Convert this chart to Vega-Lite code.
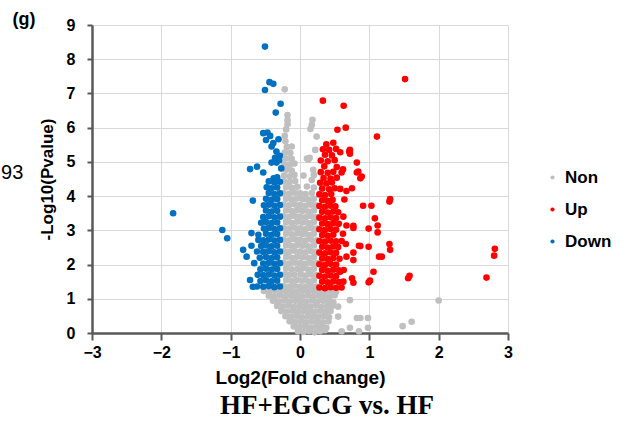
{
"$schema": "https://vega.github.io/schema/vega-lite/v6.json",
"autosize": {"type": "none"},
"padding": {"left": 92, "top": 25, "right": 123, "bottom": 91},
"width": 416,
"height": 308,
"background": "white",
"title": {"text": "HF+EGCG vs. HF", "orient": "bottom", "anchor": "middle", "font": "Liberation Serif", "fontSize": 27, "fontWeight": "bold", "color": "#000000", "offset": 6, "dx": 27, "baseline": "top"},
"config": {"view": {"stroke": null}, "font": "Liberation Sans"},
"layer": [
{
"data": {"values": [
{"x":-0.03,"y":0.05,"g":"Non"},{"x":0.05,"y":0.03,"g":"Non"},{"x":0.13,"y":0.06,"g":"Non"},{"x":0.21,"y":0.02,"g":"Non"},{"x":0.29,"y":0.05,"g":"Non"},{"x":0.36,"y":0.08,"g":"Non"},
{"x":-0.09,"y":0.19,"g":"Non"},{"x":-0.01,"y":0.17,"g":"Non"},{"x":0.07,"y":0.2,"g":"Non"},{"x":0.15,"y":0.16,"g":"Non"},{"x":0.23,"y":0.19,"g":"Non"},{"x":0.31,"y":0.18,"g":"Non"},{"x":0.38,"y":0.15,"g":"Non"},
{"x":-0.15,"y":0.34,"g":"Non"},{"x":-0.07,"y":0.32,"g":"Non"},{"x":0.01,"y":0.35,"g":"Non"},{"x":0.09,"y":0.31,"g":"Non"},{"x":0.17,"y":0.34,"g":"Non"},{"x":0.25,"y":0.33,"g":"Non"},{"x":0.33,"y":0.31,"g":"Non"},{"x":0.41,"y":0.34,"g":"Non"},
{"x":-0.21,"y":0.49,"g":"Non"},{"x":-0.13,"y":0.47,"g":"Non"},{"x":-0.05,"y":0.5,"g":"Non"},{"x":0.03,"y":0.46,"g":"Non"},{"x":0.11,"y":0.49,"g":"Non"},{"x":0.19,"y":0.48,"g":"Non"},{"x":0.27,"y":0.47,"g":"Non"},{"x":0.35,"y":0.5,"g":"Non"},{"x":0.42,"y":0.46,"g":"Non"},
{"x":-0.27,"y":0.64,"g":"Non"},{"x":-0.19,"y":0.62,"g":"Non"},{"x":-0.11,"y":0.65,"g":"Non"},{"x":-0.03,"y":0.61,"g":"Non"},{"x":0.05,"y":0.64,"g":"Non"},{"x":0.13,"y":0.63,"g":"Non"},{"x":0.21,"y":0.62,"g":"Non"},{"x":0.29,"y":0.65,"g":"Non"},{"x":0.37,"y":0.61,"g":"Non"},{"x":0.44,"y":0.64,"g":"Non"},
{"x":-0.33,"y":0.79,"g":"Non"},{"x":-0.25,"y":0.77,"g":"Non"},{"x":-0.17,"y":0.8,"g":"Non"},{"x":-0.09,"y":0.76,"g":"Non"},{"x":-0.01,"y":0.79,"g":"Non"},{"x":0.07,"y":0.78,"g":"Non"},{"x":0.15,"y":0.77,"g":"Non"},{"x":0.23,"y":0.8,"g":"Non"},{"x":0.31,"y":0.76,"g":"Non"},{"x":0.39,"y":0.79,"g":"Non"},{"x":0.46,"y":0.78,"g":"Non"},
{"x":-0.39,"y":0.94,"g":"Non"},{"x":-0.31,"y":0.92,"g":"Non"},{"x":-0.23,"y":0.95,"g":"Non"},{"x":-0.15,"y":0.91,"g":"Non"},{"x":-0.07,"y":0.94,"g":"Non"},{"x":0.01,"y":0.93,"g":"Non"},{"x":0.09,"y":0.92,"g":"Non"},{"x":0.17,"y":0.95,"g":"Non"},{"x":0.25,"y":0.91,"g":"Non"},{"x":0.33,"y":0.94,"g":"Non"},{"x":0.41,"y":0.93,"g":"Non"},{"x":0.48,"y":0.9,"g":"Non"},
{"x":-0.45,"y":1.09,"g":"Non"},{"x":-0.37,"y":1.07,"g":"Non"},{"x":-0.29,"y":1.1,"g":"Non"},{"x":-0.21,"y":1.06,"g":"Non"},{"x":-0.13,"y":1.09,"g":"Non"},{"x":-0.05,"y":1.08,"g":"Non"},{"x":0.03,"y":1.07,"g":"Non"},{"x":0.11,"y":1.1,"g":"Non"},{"x":0.19,"y":1.06,"g":"Non"},{"x":0.27,"y":1.09,"g":"Non"},{"x":0.35,"y":1.08,"g":"Non"},{"x":0.43,"y":1.07,"g":"Non"},{"x":0.5,"y":1.1,"g":"Non"},
{"x":-0.52,"y":1.23,"g":"Non"},{"x":-0.44,"y":1.21,"g":"Non"},{"x":-0.36,"y":1.24,"g":"Non"},{"x":-0.28,"y":1.2,"g":"Non"},{"x":-0.2,"y":1.23,"g":"Non"},{"x":-0.12,"y":1.22,"g":"Non"},{"x":-0.04,"y":1.21,"g":"Non"},{"x":0.04,"y":1.24,"g":"Non"},{"x":0.12,"y":1.2,"g":"Non"},{"x":0.2,"y":1.23,"g":"Non"},{"x":0.28,"y":1.22,"g":"Non"},{"x":0.36,"y":1.21,"g":"Non"},{"x":0.44,"y":1.24,"g":"Non"},{"x":0.52,"y":1.2,"g":"Non"},
{"x":-0.24,"y":1.37,"g":"Non"},{"x":-0.16,"y":1.35,"g":"Non"},{"x":-0.08,"y":1.38,"g":"Non"},{"x":0.0,"y":1.36,"g":"Non"},{"x":0.08,"y":1.34,"g":"Non"},{"x":0.16,"y":1.37,"g":"Non"},{"x":0.24,"y":1.36,"g":"Non"},
{"x":-0.2,"y":1.54,"g":"Non"},{"x":-0.12,"y":1.52,"g":"Non"},{"x":-0.04,"y":1.55,"g":"Non"},{"x":0.04,"y":1.53,"g":"Non"},{"x":0.12,"y":1.51,"g":"Non"},{"x":0.2,"y":1.54,"g":"Non"},
{"x":-0.23,"y":1.71,"g":"Non"},{"x":-0.16,"y":1.69,"g":"Non"},{"x":-0.08,"y":1.7,"g":"Non"},{"x":0.01,"y":1.72,"g":"Non"},{"x":0.08,"y":1.68,"g":"Non"},{"x":0.16,"y":1.71,"g":"Non"},{"x":0.24,"y":1.69,"g":"Non"},
{"x":-0.2,"y":1.88,"g":"Non"},{"x":-0.12,"y":1.86,"g":"Non"},{"x":-0.04,"y":1.87,"g":"Non"},{"x":0.04,"y":1.89,"g":"Non"},{"x":0.12,"y":1.85,"g":"Non"},{"x":0.2,"y":1.88,"g":"Non"},
{"x":-0.24,"y":2.05,"g":"Non"},{"x":-0.16,"y":2.03,"g":"Non"},{"x":-0.08,"y":2.06,"g":"Non"},{"x":0.0,"y":2.04,"g":"Non"},{"x":0.08,"y":2.02,"g":"Non"},{"x":0.16,"y":2.05,"g":"Non"},{"x":0.24,"y":2.04,"g":"Non"},
{"x":-0.2,"y":2.22,"g":"Non"},{"x":-0.12,"y":2.2,"g":"Non"},{"x":-0.04,"y":2.23,"g":"Non"},{"x":0.04,"y":2.21,"g":"Non"},{"x":0.12,"y":2.19,"g":"Non"},{"x":0.2,"y":2.22,"g":"Non"},
{"x":-0.24,"y":2.39,"g":"Non"},{"x":-0.16,"y":2.37,"g":"Non"},{"x":-0.08,"y":2.4,"g":"Non"},{"x":0.0,"y":2.38,"g":"Non"},{"x":0.08,"y":2.36,"g":"Non"},{"x":0.16,"y":2.39,"g":"Non"},{"x":0.24,"y":2.37,"g":"Non"},
{"x":-0.2,"y":2.56,"g":"Non"},{"x":-0.12,"y":2.54,"g":"Non"},{"x":-0.04,"y":2.57,"g":"Non"},{"x":0.04,"y":2.55,"g":"Non"},{"x":0.12,"y":2.53,"g":"Non"},{"x":0.2,"y":2.56,"g":"Non"},
{"x":-0.24,"y":2.73,"g":"Non"},{"x":-0.16,"y":2.71,"g":"Non"},{"x":-0.08,"y":2.74,"g":"Non"},{"x":0.0,"y":2.72,"g":"Non"},{"x":0.08,"y":2.7,"g":"Non"},{"x":0.16,"y":2.73,"g":"Non"},{"x":0.24,"y":2.71,"g":"Non"},
{"x":-0.2,"y":2.9,"g":"Non"},{"x":-0.12,"y":2.88,"g":"Non"},{"x":-0.04,"y":2.91,"g":"Non"},{"x":0.04,"y":2.89,"g":"Non"},{"x":0.12,"y":2.87,"g":"Non"},{"x":0.2,"y":2.9,"g":"Non"},
{"x":-0.24,"y":3.07,"g":"Non"},{"x":-0.16,"y":3.05,"g":"Non"},{"x":-0.08,"y":3.08,"g":"Non"},{"x":0.0,"y":3.06,"g":"Non"},{"x":0.08,"y":3.04,"g":"Non"},{"x":0.16,"y":3.07,"g":"Non"},{"x":0.24,"y":3.05,"g":"Non"},
{"x":-0.2,"y":3.24,"g":"Non"},{"x":-0.12,"y":3.22,"g":"Non"},{"x":-0.04,"y":3.25,"g":"Non"},{"x":0.04,"y":3.23,"g":"Non"},{"x":0.12,"y":3.21,"g":"Non"},{"x":0.2,"y":3.24,"g":"Non"},
{"x":-0.24,"y":3.41,"g":"Non"},{"x":-0.16,"y":3.39,"g":"Non"},{"x":-0.08,"y":3.42,"g":"Non"},{"x":0.0,"y":3.4,"g":"Non"},{"x":0.08,"y":3.38,"g":"Non"},{"x":0.16,"y":3.41,"g":"Non"},{"x":0.24,"y":3.39,"g":"Non"},
{"x":-0.2,"y":3.58,"g":"Non"},{"x":-0.12,"y":3.56,"g":"Non"},{"x":-0.04,"y":3.59,"g":"Non"},{"x":0.04,"y":3.57,"g":"Non"},{"x":0.12,"y":3.55,"g":"Non"},{"x":0.2,"y":3.58,"g":"Non"},
{"x":-0.24,"y":3.75,"g":"Non"},{"x":-0.16,"y":3.73,"g":"Non"},{"x":-0.08,"y":3.76,"g":"Non"},{"x":0.0,"y":3.74,"g":"Non"},{"x":0.08,"y":3.72,"g":"Non"},{"x":0.16,"y":3.75,"g":"Non"},{"x":0.23,"y":3.73,"g":"Non"},
{"x":-0.2,"y":3.92,"g":"Non"},{"x":-0.12,"y":3.9,"g":"Non"},{"x":-0.04,"y":3.93,"g":"Non"},{"x":0.04,"y":3.91,"g":"Non"},{"x":0.12,"y":3.89,"g":"Non"},{"x":0.2,"y":3.92,"g":"Non"},
{"x":-0.24,"y":4.09,"g":"Non"},{"x":-0.16,"y":4.07,"g":"Non"},{"x":-0.08,"y":4.1,"g":"Non"},{"x":0.0,"y":4.08,"g":"Non"},{"x":0.08,"y":4.06,"g":"Non"},{"x":0.17,"y":4.09,"g":"Non"},
{"x":-0.2,"y":4.26,"g":"Non"},{"x":-0.12,"y":4.24,"g":"Non"},{"x":-0.04,"y":4.27,"g":"Non"},{"x":0.1,"y":4.28,"g":"Non"},{"x":0.2,"y":4.25,"g":"Non"},
{"x":-0.23,"y":4.43,"g":"Non"},{"x":-0.15,"y":4.41,"g":"Non"},{"x":-0.07,"y":4.44,"g":"Non"},{"x":0.17,"y":4.47,"g":"Non"},
{"x":-0.23,"y":4.6,"g":"Non"},{"x":-0.15,"y":4.58,"g":"Non"},{"x":-0.08,"y":4.62,"g":"Non"},{"x":0.05,"y":4.6,"g":"Non"},{"x":0.2,"y":4.62,"g":"Non"},
{"x":-0.2,"y":4.77,"g":"Non"},{"x":-0.12,"y":4.75,"g":"Non"},{"x":0.19,"y":4.77,"g":"Non"},
{"x":-0.23,"y":4.93,"g":"Non"},{"x":-0.15,"y":4.92,"g":"Non"},{"x":-0.08,"y":4.95,"g":"Non"},
{"x":-0.2,"y":5.1,"g":"Non"},{"x":-0.12,"y":5.09,"g":"Non"},{"x":0.12,"y":5.06,"g":"Non"},{"x":0.14,"y":5.12,"g":"Non"},{"x":0.1,"y":5.1,"g":"Non"},
{"x":-0.22,"y":5.27,"g":"Non"},{"x":-0.14,"y":5.26,"g":"Non"},{"x":-0.19,"y":5.43,"g":"Non"},{"x":-0.12,"y":5.45,"g":"Non"},{"x":0.22,"y":5.35,"g":"Non"},
{"x":-0.21,"y":5.6,"g":"Non"},{"x":-0.22,"y":5.76,"g":"Non"},{"x":0.24,"y":5.74,"g":"Non"},{"x":-0.2,"y":5.95,"g":"Non"},{"x":0.15,"y":5.96,"g":"Non"},
{"x":-0.18,"y":6.1,"g":"Non"},{"x":0.17,"y":6.08,"g":"Non"},{"x":0.18,"y":6.23,"g":"Non"},{"x":-0.18,"y":6.22,"g":"Non"},{"x":-0.18,"y":6.37,"g":"Non"},{"x":-0.22,"y":7.12,"g":"Non"},
{"x":0.55,"y":0.77,"g":"Non"},{"x":0.72,"y":0.96,"g":"Non"},{"x":0.55,"y":0.48,"g":"Non"},{"x":0.82,"y":0.44,"g":"Non"},{"x":0.87,"y":0.44,"g":"Non"},{"x":0.98,"y":0.44,"g":"Non"},{"x":0.98,"y":0.15,"g":"Non"},{"x":0.72,"y":0.15,"g":"Non"},{"x":0.6,"y":0.05,"g":"Non"},{"x":0.85,"y":0.05,"g":"Non"},{"x":2.0,"y":0.95,"g":"Non"},{"x":1.61,"y":0.33,"g":"Non"},{"x":1.48,"y":0.2,"g":"Non"},
{"x":0.28,"y":1.33,"g":"Up"},{"x":0.36,"y":1.31,"g":"Up"},{"x":0.44,"y":1.34,"g":"Up"},{"x":0.52,"y":1.32,"g":"Up"},{"x":0.6,"y":1.33,"g":"Up"},
{"x":0.32,"y":1.5,"g":"Up"},{"x":0.4,"y":1.48,"g":"Up"},{"x":0.48,"y":1.51,"g":"Up"},{"x":0.56,"y":1.49,"g":"Up"},
{"x":0.28,"y":1.67,"g":"Up"},{"x":0.36,"y":1.65,"g":"Up"},{"x":0.44,"y":1.68,"g":"Up"},{"x":0.52,"y":1.66,"g":"Up"},
{"x":0.32,"y":1.84,"g":"Up"},{"x":0.4,"y":1.82,"g":"Up"},{"x":0.48,"y":1.85,"g":"Up"},{"x":0.56,"y":1.83,"g":"Up"},
{"x":0.28,"y":2.01,"g":"Up"},{"x":0.36,"y":1.99,"g":"Up"},{"x":0.44,"y":2.02,"g":"Up"},{"x":0.52,"y":2.0,"g":"Up"},
{"x":0.32,"y":2.18,"g":"Up"},{"x":0.4,"y":2.16,"g":"Up"},{"x":0.48,"y":2.19,"g":"Up"},{"x":0.57,"y":2.17,"g":"Up"},
{"x":0.28,"y":2.35,"g":"Up"},{"x":0.36,"y":2.33,"g":"Up"},{"x":0.44,"y":2.36,"g":"Up"},{"x":0.52,"y":2.34,"g":"Up"},
{"x":0.32,"y":2.52,"g":"Up"},{"x":0.4,"y":2.5,"g":"Up"},{"x":0.48,"y":2.53,"g":"Up"},{"x":0.55,"y":2.51,"g":"Up"},
{"x":0.28,"y":2.69,"g":"Up"},{"x":0.36,"y":2.67,"g":"Up"},{"x":0.44,"y":2.7,"g":"Up"},{"x":0.52,"y":2.68,"g":"Up"},{"x":0.6,"y":2.69,"g":"Up"},
{"x":0.32,"y":2.86,"g":"Up"},{"x":0.4,"y":2.84,"g":"Up"},{"x":0.48,"y":2.87,"g":"Up"},
{"x":0.28,"y":3.03,"g":"Up"},{"x":0.36,"y":3.01,"g":"Up"},{"x":0.44,"y":3.04,"g":"Up"},{"x":0.52,"y":3.02,"g":"Up"},
{"x":0.32,"y":3.2,"g":"Up"},{"x":0.4,"y":3.18,"g":"Up"},{"x":0.48,"y":3.21,"g":"Up"},{"x":0.56,"y":3.19,"g":"Up"},
{"x":0.28,"y":3.37,"g":"Up"},{"x":0.36,"y":3.35,"g":"Up"},{"x":0.44,"y":3.38,"g":"Up"},{"x":0.52,"y":3.36,"g":"Up"},
{"x":0.32,"y":3.54,"g":"Up"},{"x":0.4,"y":3.52,"g":"Up"},{"x":0.48,"y":3.55,"g":"Up"},{"x":0.55,"y":3.53,"g":"Up"},
{"x":0.28,"y":3.71,"g":"Up"},{"x":0.36,"y":3.69,"g":"Up"},{"x":0.44,"y":3.72,"g":"Up"},{"x":0.51,"y":3.7,"g":"Up"},
{"x":0.32,"y":3.88,"g":"Up"},{"x":0.4,"y":3.86,"g":"Up"},{"x":0.47,"y":3.89,"g":"Up"},
{"x":0.28,"y":4.05,"g":"Up"},{"x":0.36,"y":4.03,"g":"Up"},{"x":0.45,"y":4.06,"g":"Up"},
{"x":0.32,"y":4.22,"g":"Up"},{"x":0.42,"y":4.2,"g":"Up"},{"x":0.5,"y":4.23,"g":"Up"},{"x":0.58,"y":4.21,"g":"Up"},
{"x":0.29,"y":4.39,"g":"Up"},{"x":0.38,"y":4.37,"g":"Up"},{"x":0.46,"y":4.4,"g":"Up"},
{"x":0.34,"y":4.53,"g":"Up"},{"x":0.44,"y":4.51,"g":"Up"},{"x":0.53,"y":4.54,"g":"Up"},
{"x":0.3,"y":4.7,"g":"Up"},{"x":0.4,"y":4.68,"g":"Up"},{"x":0.48,"y":4.71,"g":"Up"},{"x":0.6,"y":4.69,"g":"Up"},
{"x":0.35,"y":4.87,"g":"Up"},{"x":0.53,"y":4.85,"g":"Up"},{"x":0.62,"y":4.78,"g":"Up"},
{"x":0.3,"y":5.04,"g":"Up"},{"x":0.4,"y":5.02,"g":"Up"},{"x":0.5,"y":5.05,"g":"Up"},
{"x":0.36,"y":5.21,"g":"Up"},{"x":0.46,"y":5.19,"g":"Up"},
{"x":0.33,"y":5.37,"g":"Up"},{"x":0.42,"y":5.35,"g":"Up"},{"x":0.52,"y":5.38,"g":"Up"},
{"x":0.38,"y":5.51,"g":"Up"},{"x":0.48,"y":5.56,"g":"Up"},
{"x":0.33,"y":6.79,"g":"Up"},{"x":0.63,"y":6.64,"g":"Up"},{"x":0.54,"y":5.94,"g":"Up"},{"x":0.66,"y":6.0,"g":"Up"},{"x":1.11,"y":5.74,"g":"Up"},{"x":1.515,"y":7.42,"g":"Up"},
{"x":0.71,"y":5.3,"g":"Up"},{"x":0.72,"y":5.24,"g":"Up"},{"x":0.58,"y":5.28,"g":"Up"},{"x":0.82,"y":4.98,"g":"Up"},{"x":0.84,"y":4.72,"g":"Up"},{"x":0.89,"y":4.57,"g":"Up"},{"x":0.87,"y":4.52,"g":"Up"},{"x":0.75,"y":4.23,"g":"Up"},{"x":0.67,"y":4.15,"g":"Up"},{"x":0.82,"y":4.69,"g":"Up"},
{"x":1.3,"y":3.91,"g":"Up"},{"x":1.29,"y":3.84,"g":"Up"},{"x":0.91,"y":3.72,"g":"Up"},{"x":1.03,"y":3.72,"g":"Up"},{"x":1.08,"y":3.35,"g":"Up"},{"x":0.99,"y":3.05,"g":"Up"},{"x":1.12,"y":3.14,"g":"Up"},{"x":1.12,"y":2.94,"g":"Up"},
{"x":0.77,"y":3.13,"g":"Up"},{"x":0.67,"y":3.14,"g":"Up"},{"x":0.625,"y":3.4,"g":"Up"},{"x":0.77,"y":3.07,"g":"Up"},{"x":0.85,"y":2.55,"g":"Up"},{"x":0.99,"y":2.52,"g":"Up"},{"x":0.87,"y":2.54,"g":"Up"},{"x":1.29,"y":2.6,"g":"Up"},{"x":1.3,"y":2.43,"g":"Up"},
{"x":0.77,"y":2.35,"g":"Up"},{"x":0.67,"y":2.23,"g":"Up"},{"x":0.77,"y":2.13,"g":"Up"},{"x":1.14,"y":2.23,"g":"Up"},{"x":1.18,"y":2.23,"g":"Up"},{"x":1.06,"y":1.79,"g":"Up"},{"x":0.63,"y":1.84,"g":"Up"},{"x":0.58,"y":1.79,"g":"Up"},
{"x":0.99,"y":1.48,"g":"Up"},{"x":1.01,"y":1.53,"g":"Up"},{"x":0.75,"y":1.6,"g":"Up"},{"x":0.77,"y":1.47,"g":"Up"},{"x":0.625,"y":1.5,"g":"Up"},{"x":1.58,"y":1.67,"g":"Up"},{"x":1.56,"y":1.6,"g":"Up"},
{"x":2.81,"y":2.46,"g":"Up"},{"x":2.8,"y":2.26,"g":"Up"},{"x":2.69,"y":1.62,"g":"Up"},{"x":0.72,"y":5.35,"g":"Up"},{"x":0.64,"y":3.9,"g":"Up"},{"x":0.62,"y":2.9,"g":"Up"},{"x":0.66,"y":2.6,"g":"Up"},
{"x":-0.29,"y":1.36,"g":"Down"},{"x":-0.37,"y":1.34,"g":"Down"},{"x":-0.45,"y":1.37,"g":"Down"},{"x":-0.53,"y":1.35,"g":"Down"},{"x":-0.62,"y":1.36,"g":"Down"},{"x":-0.68,"y":1.35,"g":"Down"},
{"x":-0.33,"y":1.53,"g":"Down"},{"x":-0.41,"y":1.51,"g":"Down"},{"x":-0.49,"y":1.54,"g":"Down"},{"x":-0.57,"y":1.52,"g":"Down"},{"x":-0.72,"y":1.55,"g":"Down"},
{"x":-0.29,"y":1.7,"g":"Down"},{"x":-0.37,"y":1.68,"g":"Down"},{"x":-0.45,"y":1.71,"g":"Down"},{"x":-0.53,"y":1.69,"g":"Down"},{"x":-0.61,"y":1.7,"g":"Down"},
{"x":-0.33,"y":1.87,"g":"Down"},{"x":-0.41,"y":1.85,"g":"Down"},{"x":-0.49,"y":1.88,"g":"Down"},{"x":-0.57,"y":1.86,"g":"Down"},
{"x":-0.29,"y":2.04,"g":"Down"},{"x":-0.37,"y":2.02,"g":"Down"},{"x":-0.45,"y":2.05,"g":"Down"},{"x":-0.53,"y":2.03,"g":"Down"},{"x":-0.66,"y":2.04,"g":"Down"},
{"x":-0.33,"y":2.21,"g":"Down"},{"x":-0.41,"y":2.19,"g":"Down"},{"x":-0.49,"y":2.22,"g":"Down"},{"x":-0.58,"y":2.2,"g":"Down"},{"x":-0.77,"y":2.23,"g":"Down"},
{"x":-0.29,"y":2.38,"g":"Down"},{"x":-0.37,"y":2.36,"g":"Down"},{"x":-0.45,"y":2.39,"g":"Down"},{"x":-0.53,"y":2.37,"g":"Down"},{"x":-0.62,"y":2.38,"g":"Down"},{"x":-0.82,"y":2.43,"g":"Down"},
{"x":-0.33,"y":2.55,"g":"Down"},{"x":-0.41,"y":2.53,"g":"Down"},{"x":-0.49,"y":2.56,"g":"Down"},{"x":-0.56,"y":2.54,"g":"Down"},{"x":-0.7,"y":2.55,"g":"Down"},
{"x":-0.29,"y":2.72,"g":"Down"},{"x":-0.37,"y":2.7,"g":"Down"},{"x":-0.45,"y":2.73,"g":"Down"},{"x":-0.53,"y":2.71,"g":"Down"},{"x":-0.6,"y":2.72,"g":"Down"},
{"x":-0.33,"y":2.89,"g":"Down"},{"x":-0.41,"y":2.87,"g":"Down"},{"x":-0.49,"y":2.9,"g":"Down"},{"x":-0.6,"y":2.87,"g":"Down"},{"x":-0.7,"y":2.92,"g":"Down"},
{"x":-0.29,"y":3.06,"g":"Down"},{"x":-0.37,"y":3.04,"g":"Down"},{"x":-0.45,"y":3.07,"g":"Down"},{"x":-0.52,"y":3.05,"g":"Down"},
{"x":-0.33,"y":3.23,"g":"Down"},{"x":-0.41,"y":3.21,"g":"Down"},{"x":-0.49,"y":3.24,"g":"Down"},{"x":-0.56,"y":3.22,"g":"Down"},
{"x":-0.29,"y":3.4,"g":"Down"},{"x":-0.37,"y":3.38,"g":"Down"},{"x":-0.45,"y":3.41,"g":"Down"},{"x":-0.53,"y":3.39,"g":"Down"},
{"x":-0.33,"y":3.57,"g":"Down"},{"x":-0.41,"y":3.55,"g":"Down"},{"x":-0.49,"y":3.58,"g":"Down"},
{"x":-0.29,"y":3.74,"g":"Down"},{"x":-0.37,"y":3.72,"g":"Down"},{"x":-0.45,"y":3.75,"g":"Down"},{"x":-0.52,"y":3.73,"g":"Down"},
{"x":-0.33,"y":3.91,"g":"Down"},{"x":-0.41,"y":3.89,"g":"Down"},{"x":-0.49,"y":3.92,"g":"Down"},{"x":-0.68,"y":3.87,"g":"Down"},
{"x":-0.29,"y":4.08,"g":"Down"},{"x":-0.37,"y":4.06,"g":"Down"},{"x":-0.45,"y":4.09,"g":"Down"},
{"x":-0.33,"y":4.25,"g":"Down"},{"x":-0.41,"y":4.23,"g":"Down"},{"x":-0.48,"y":4.26,"g":"Down"},
{"x":-0.29,"y":4.42,"g":"Down"},{"x":-0.37,"y":4.4,"g":"Down"},{"x":-0.45,"y":4.43,"g":"Down"},
{"x":-0.38,"y":4.52,"g":"Down"},{"x":-0.33,"y":4.55,"g":"Down"},{"x":-0.27,"y":4.81,"g":"Down"},{"x":-0.72,"y":4.79,"g":"Down"},{"x":-0.62,"y":4.86,"g":"Down"},{"x":-0.53,"y":4.69,"g":"Down"},{"x":-0.41,"y":4.98,"g":"Down"},{"x":-0.34,"y":4.98,"g":"Down"},
{"x":-0.29,"y":5.18,"g":"Down"},{"x":-0.34,"y":5.3,"g":"Down"},{"x":-0.41,"y":5.45,"g":"Down"},{"x":-0.385,"y":5.55,"g":"Down"},{"x":-0.31,"y":5.66,"g":"Down"},{"x":-0.49,"y":5.64,"g":"Down"},{"x":-0.43,"y":5.76,"g":"Down"},{"x":-0.47,"y":5.86,"g":"Down"},{"x":-0.53,"y":5.84,"g":"Down"},
{"x":-0.35,"y":6.44,"g":"Down"},{"x":-0.28,"y":6.7,"g":"Down"},{"x":-0.505,"y":7.1,"g":"Down"},{"x":-0.385,"y":7.28,"g":"Down"},{"x":-0.44,"y":7.33,"g":"Down"},{"x":-0.505,"y":8.37,"g":"Down"},{"x":-0.3,"y":5.05,"g":"Down"},{"x":-0.36,"y":5.12,"g":"Down"},
{"x":-1.83,"y":3.5,"g":"Down"},{"x":-1.12,"y":3.01,"g":"Down"},{"x":-1.05,"y":2.77,"g":"Down"}
]},
"mark": {"type": "circle", "size": 44, "opacity": 1},
"encoding": {
"x": {"field": "x", "type": "quantitative", "scale": {"domain": [-3, 3], "nice": false, "zero": false},
 "axis": {"title": "Log2(Fold change)", "values": [-3, -2, -1, 0, 1, 2, 3], "format": "d", "grid": true, "gridColor": "#d9d9d9", "gridWidth": 1, "domainColor": "#595959", "domainWidth": 2.5, "tickColor": "#595959", "tickWidth": 2, "tickSize": 7, "labelFlush": false, "labelOverlap": false, "labelFont": "Liberation Sans", "labelFontSize": 16, "labelFontWeight": "bold", "labelColor": "#000000", "labelPadding": 4, "titleFont": "Liberation Sans", "titleFontSize": 19, "titleFontWeight": "bold", "titleColor": "#000000", "titlePadding": 8}},
"y": {"field": "y", "type": "quantitative", "scale": {"domain": [0, 9], "nice": false},
 "axis": {"title": "-Log10(Pvalue)", "values": [0, 1, 2, 3, 4, 5, 6, 7, 8, 9], "format": "d", "grid": true, "gridColor": "#d9d9d9", "gridWidth": 1, "domainColor": "#595959", "domainWidth": 2.5, "tickColor": "#595959", "tickWidth": 2, "tickSize": 5, "labelOverlap": false, "labelFont": "Liberation Sans", "labelFontSize": 16, "labelFontWeight": "bold", "labelColor": "#000000", "labelPadding": 12, "titleFont": "Liberation Sans", "titleFontSize": 17, "titleFontWeight": "bold", "titleColor": "#000000", "titlePadding": 10}},
"color": {"field": "g", "type": "nominal", "scale": {"domain": ["Non", "Up", "Down"], "range": ["#bfbfbf", "#ff0000", "#0070c0"]},
 "legend": {"title": null, "orient": "none", "legendX": 452, "legendY": 144, "symbolType": "circle", "symbolSize": 18, "labelFont": "Liberation Sans", "labelFontSize": 17, "labelFontWeight": "bold", "labelColor": "#000000", "rowPadding": 14, "labelOffset": 4}}
}
},
{
"data": {"values": [{"label": "(g)"}]},
"mark": {"type": "text", "font": "Liberation Sans", "fontWeight": "bold", "fontSize": 18, "align": "center", "baseline": "middle", "color": "#000000"},
"encoding": {
"x": {"datum": -3.98, "type": "quantitative", "axis": {"title": "Log2(Fold change)", "values": [-3, -2, -1, 0, 1, 2, 3], "format": "d", "grid": true, "gridColor": "#d9d9d9", "gridWidth": 1, "domainColor": "#595959", "domainWidth": 2.5, "tickColor": "#595959", "tickWidth": 2, "tickSize": 7, "labelFlush": false, "labelOverlap": false, "labelFont": "Liberation Sans", "labelFontSize": 16, "labelFontWeight": "bold", "labelColor": "#000000", "labelPadding": 4, "titleFont": "Liberation Sans", "titleFontSize": 19, "titleFontWeight": "bold", "titleColor": "#000000", "titlePadding": 8}},
"y": {"datum": 9.16, "type": "quantitative", "axis": {"title": "-Log10(Pvalue)", "values": [0, 1, 2, 3, 4, 5, 6, 7, 8, 9], "format": "d", "grid": true, "gridColor": "#d9d9d9", "gridWidth": 1, "domainColor": "#595959", "domainWidth": 2.5, "tickColor": "#595959", "tickWidth": 2, "tickSize": 5, "labelOverlap": false, "labelFont": "Liberation Sans", "labelFontSize": 16, "labelFontWeight": "bold", "labelColor": "#000000", "labelPadding": 12, "titleFont": "Liberation Sans", "titleFontSize": 17, "titleFontWeight": "bold", "titleColor": "#000000", "titlePadding": 10}},
"text": {"field": "label"}}
},
{
"data": {"values": [{"label": "93"}]},
"mark": {"type": "text", "font": "Liberation Sans", "fontSize": 20, "align": "right", "baseline": "middle", "color": "#000000"},
"encoding": {
"x": {"datum": -3.99, "type": "quantitative", "axis": {"title": "Log2(Fold change)", "values": [-3, -2, -1, 0, 1, 2, 3], "format": "d", "grid": true, "gridColor": "#d9d9d9", "gridWidth": 1, "domainColor": "#595959", "domainWidth": 2.5, "tickColor": "#595959", "tickWidth": 2, "tickSize": 7, "labelFlush": false, "labelOverlap": false, "labelFont": "Liberation Sans", "labelFontSize": 16, "labelFontWeight": "bold", "labelColor": "#000000", "labelPadding": 4, "titleFont": "Liberation Sans", "titleFontSize": 19, "titleFontWeight": "bold", "titleColor": "#000000", "titlePadding": 8}},
"y": {"datum": 4.68, "type": "quantitative", "axis": {"title": "-Log10(Pvalue)", "values": [0, 1, 2, 3, 4, 5, 6, 7, 8, 9], "format": "d", "grid": true, "gridColor": "#d9d9d9", "gridWidth": 1, "domainColor": "#595959", "domainWidth": 2.5, "tickColor": "#595959", "tickWidth": 2, "tickSize": 5, "labelOverlap": false, "labelFont": "Liberation Sans", "labelFontSize": 16, "labelFontWeight": "bold", "labelColor": "#000000", "labelPadding": 12, "titleFont": "Liberation Sans", "titleFontSize": 17, "titleFontWeight": "bold", "titleColor": "#000000", "titlePadding": 10}},
"text": {"field": "label"}}
}
]
}
